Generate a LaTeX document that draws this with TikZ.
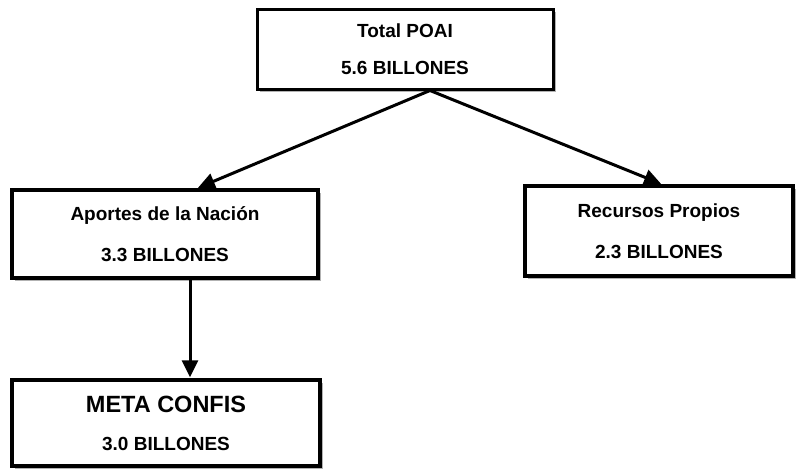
\documentclass[tikz,border=0pt]{standalone}
\usepackage{fontspec}
\setmainfont{Liberation Sans}
\usetikzlibrary{arrows.meta,shadows,calc}
\begin{document}
\begin{tikzpicture}[x=1pt,y=-1pt,
  box/.style={draw, line width=3.5pt, fill=white, rectangle, align=center,
    inner sep=0pt, font=\fontsize{19}{22}\selectfont\bfseries,
    drop shadow={shadow xshift=2.5pt, shadow yshift=-2.5pt, fill=gray!60, opacity=1}},
  conn/.style={line width=3pt, -{Triangle[length=17pt,width=16pt]}, shorten >=1pt}]
\useasboundingbox (0,0) rectangle (806,471);
\node[box, line width=3pt, minimum width=296pt, minimum height=80pt] (top) at (405,49)
  {Total POAI\\[15pt]5.6 BILLONES};
\node[box, minimum width=306pt, minimum height=88pt] (left) at (165,234)
  {Aportes de la Nación\\[19pt]3.3 BILLONES};
\node[box, minimum width=268pt, minimum height=90pt] (right) at (659,231)
  {Recursos Propios\\[19pt]2.3 BILLONES};
\node[box, minimum width=308pt, minimum height=86pt] (meta) at (166,423)
  {{\fontsize{23.5}{25}\selectfont META CONFIS}\\[16pt]3.0 BILLONES};
\coordinate (split) at ([xshift=25pt]top.south);
\coordinate (lefttip) at ([xshift=32pt]left.north);
\coordinate (righttip) at ([xshift=3pt]right.north);
\coordinate (downstart) at ([xshift=25pt]left.south);
\coordinate (downtip) at ([xshift=24pt]meta.north);
\draw[conn] (split) -- (lefttip);
\draw[conn] (split) -- (righttip);
\draw[conn] (downstart) -- (downtip);
\end{tikzpicture}
\end{document}
